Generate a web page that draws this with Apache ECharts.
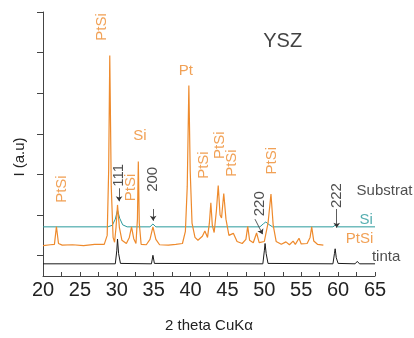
<!DOCTYPE html>
<html>
<head>
<meta charset="utf-8">
<script src="https://cdn.jsdelivr.net/npm/echarts@6/dist/echarts.min.js"></script>
<style>
  html, body { margin: 0; padding: 0; background: #fff; }
  #chart { width: 414px; height: 338px; }
</style>
</head>
<body>
<div id="chart"></div>
<script>
// 2 theta values and intensities (a.u., offset traces)
var tinta = [
  [20, 0.30], [29.8, 0.30], [30.0, 0.62], [30.1, 0.91], [30.25, 0.55], [30.5, 0.31],
  [34.7, 0.30], [34.9, 0.51], [35.1, 0.31],
  [49.8, 0.30], [50.0, 0.62], [50.1, 0.80], [50.25, 0.55], [50.5, 0.31],
  [59.3, 0.30], [59.5, 0.55], [59.6, 0.67], [59.75, 0.45], [60.0, 0.31],
  [62.3, 0.30], [62.6, 0.36], [62.9, 0.30], [65, 0.30]
];

var si = [
  [20, 1.21], [28.8, 1.21], [29.4, 1.25], [29.8, 1.40], [30.1, 1.62], [30.4, 1.42],
  [30.8, 1.26], [31.4, 1.21], [34.5, 1.21], [34.9, 1.28], [35.3, 1.21],
  [49.4, 1.21], [49.9, 1.29], [50.2, 1.33], [50.6, 1.27], [51.1, 1.21],
  [59.3, 1.21], [59.6, 1.25], [59.9, 1.21], [65, 1.21]
];

var ptsi = [
  [20, 0.75], [21.0, 0.77], [21.55, 0.78], [21.82, 1.22], [22.1, 0.80], [22.6, 0.76],
  [24.0, 0.77], [25.5, 0.75], [27.0, 0.78], [28.3, 0.78], [28.7, 1.00], [28.9, 2.6],
  [29.05, 5.43], [29.25, 2.2], [29.5, 0.95], [29.7, 0.83], [29.9, 1.20], [30.1, 1.75],
  [30.35, 1.20], [30.7, 0.88], [31.3, 0.80], [31.7, 0.95], [32.0, 1.21], [32.3, 0.92],
  [32.6, 0.80], [32.8, 1.40], [32.92, 2.82], [33.05, 1.30], [33.3, 0.78], [34.0, 0.77],
  [34.5, 0.90], [34.9, 1.21], [35.3, 0.90], [35.8, 0.77], [37.0, 0.76], [38.0, 0.78],
  [38.9, 0.80], [39.3, 1.10], [39.55, 2.2], [39.77, 4.69], [39.95, 2.6], [40.2, 1.30],
  [40.6, 0.95], [41.0, 0.88], [41.6, 0.98], [41.94, 1.11], [42.3, 0.95], [42.55, 1.30],
  [42.75, 1.80], [42.95, 1.25], [43.2, 1.07], [43.5, 1.60], [43.75, 2.23], [44.0, 1.50],
  [44.2, 1.43], [44.5, 2.03], [44.8, 1.40], [45.2, 1.00], [45.8, 1.05], [46.3, 0.85],
  [47.0, 0.80], [47.5, 0.90], [47.75, 1.22], [48.0, 0.88], [48.5, 0.82], [48.95, 1.06],
  [49.3, 0.82], [50.0, 0.85], [50.5, 1.30], [50.9, 2.02], [51.2, 1.25], [51.6, 0.85],
  [52.3, 0.78], [52.93, 0.84], [53.4, 0.77], [53.9, 0.86], [54.2, 0.78], [54.7, 0.93],
  [55.0, 0.79], [55.8, 0.80], [56.2, 0.95], [56.42, 1.21], [56.7, 0.86], [57.2, 0.78],
  [58.0, 0.76]
];

var yTicks = [0.5, 1.5, 2.5, 3.5, 4.5, 5.5, 6.5];

// annotations: [text, 2theta, I, rotate, color, fontSize, align]
var labels = [
  ["PtSi", 22.6, 2.14, 90, "#ee8a2c", 15, "center"],
  ["PtSi", 28.03, 6.13, 90, "#ee8a2c", 15, "center"],
  ["Si", 33.12, 3.44, 0, "#ee8a2c", 15, "center"],
  ["Pt", 39.36, 5.06, 0, "#ee8a2c", 15, "center"],
  ["111", 30.27, 2.48, 90, "#222", 15, "center"],
  ["PtSi", 31.9, 2.18, 90, "#ee8a2c", 15, "center"],
  ["200", 34.88, 2.38, 90, "#222", 15, "center"],
  ["PtSi", 41.8, 2.73, 90, "#ee8a2c", 15, "center"],
  ["PtSi", 43.97, 3.22, 90, "#ee8a2c", 15, "center"],
  ["PtSi", 45.6, 2.78, 90, "#ee8a2c", 15, "center"],
  ["PtSi", 50.96, 2.84, 90, "#ee8a2c", 15, "center"],
  ["220", 49.33, 1.78, 90, "#222", 15, "center"],
  ["222", 59.78, 1.98, 90, "#222", 15, "center"],
  ["Substrat", 62.5, 2.09, 0, "#222", 15, "left"],
  ["Si", 63.79, 1.38, 0, "#2a9a9c", 15, "center"],
  ["PtSi", 62.9, 0.91, 0, "#ee8a2c", 15, "center"],
  ["tinta", 66.5, 0.47, 0, "#222", 15, "center"],
  ["YSZ", 52.49, 5.78, 0, "#111", 20, "center"]
];

// arrows: [x1, y1, x2, y2]
var arrows = [
  [30.31, 2.16, 30.31, 1.84],
  [34.93, 1.65, 34.93, 1.36],
  [48.73, 1.40, 49.77, 1.03],
  [59.81, 1.65, 59.81, 1.19]
];

var font = "Liberation Sans, Arial, sans-serif";
var chart = echarts.init(document.getElementById("chart"));

var option = {
  animation: false,
  backgroundColor: "#fff",
  textStyle: { fontFamily: font },
  grid: { left: 43, right: 39, top: 12, bottom: 57 },
  xAxis: {
    type: "value",
    min: 20,
    max: 65,
    interval: 5,
    name: "2 theta CuK\u03b1",
    nameLocation: "middle",
    nameGap: 42,
    nameTextStyle: { color: "#222", fontSize: 15, fontFamily: font },
    axisLine: { show: true, lineStyle: { color: "#444", width: 1 } },
    axisTick: { show: true, inside: true, length: 4, lineStyle: { color: "#444" } },
    minorTick: { show: true, splitNumber: 2, length: 4, lineStyle: { color: "#444" } },
    axisLabel: { color: "#222", fontSize: 20, margin: 4, fontFamily: font },
    splitLine: { show: false }
  },
  yAxis: {
    type: "value",
    min: 0,
    max: 6.5,
    axisLine: { show: true, lineStyle: { color: "#444", width: 1 } },
    axisTick: { show: true, length: 6, customValues: yTicks, lineStyle: { color: "#444" } },
    axisLabel: { show: false },
    splitLine: { show: false }
  },
  graphic: [
    {
      type: "text",
      x: 20,
      y: 157,
      rotation: Math.PI / 2,
      style: {
        text: "I (a.u)",
        fill: "#222",
        font: "15px " + font,
        textAlign: "center",
        textVerticalAlign: "middle"
      }
    }
  ],
  series: [
    {
      name: "tinta",
      type: "line",
      data: tinta,
      symbol: "none",
      lineStyle: { color: "#1a1a1a", width: 1 },
      markLine: {
        silent: true,
        symbol: ["none", "arrow"],
        symbolSize: 5,
        label: { show: false },
        lineStyle: { color: "#333", width: 0.8, type: "solid" },
        data: arrows.map(function (a) {
          return [{ coord: [a[0], a[1]] }, { coord: [a[2], a[3]] }];
        })
      }
    },
    {
      name: "Si",
      type: "line",
      data: si,
      symbol: "none",
      lineStyle: { color: "#2a9a9c", width: 1 }
    },
    {
      name: "PtSi",
      type: "line",
      data: ptsi,
      symbol: "none",
      lineStyle: { color: "#ee8a2c", width: 1.2 }
    },
    {
      name: "labels",
      type: "scatter",
      symbolSize: 0,
      clip: false,
      silent: true,
      data: labels.map(function (l) {
        return {
          value: [l[1], l[2]],
          label: {
            show: true,
            position: "inside",
            formatter: l[0],
            rotate: l[3],
            color: l[4],
            fontSize: l[5],
            align: l[6],
            verticalAlign: "middle",
            fontFamily: font
          }
        };
      })
    }
  ]
};

chart.setOption(option);
</script>
</body>
</html>
